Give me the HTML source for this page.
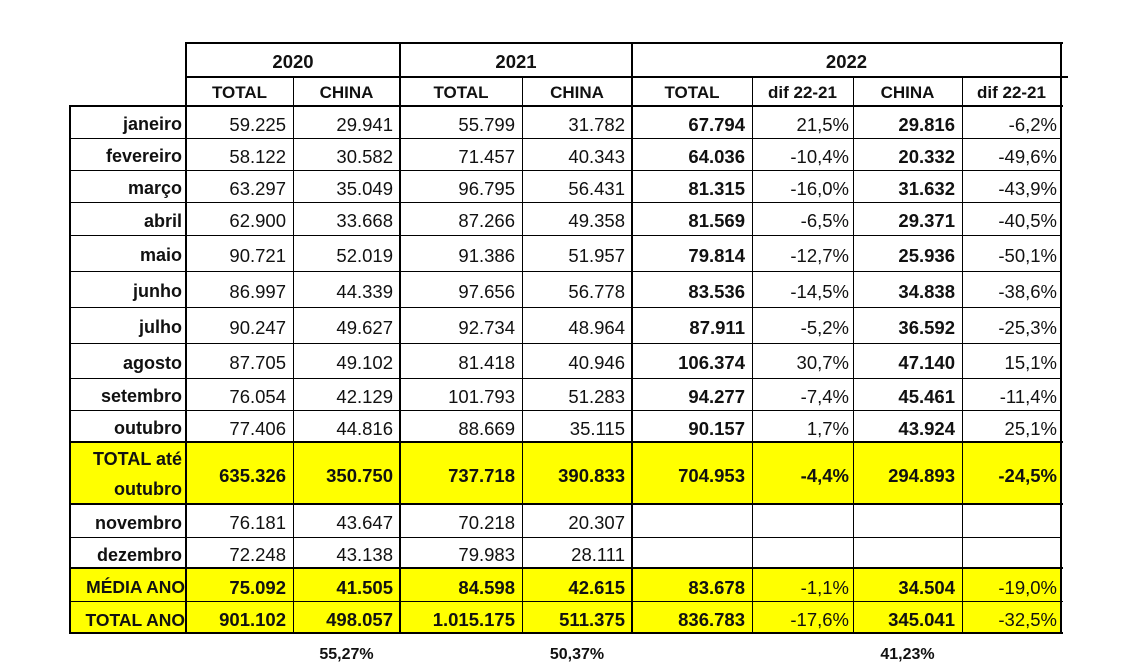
<!DOCTYPE html>
<html><head><meta charset="utf-8"><style>
body{margin:0;background:#fff;width:1138px;height:666px;position:relative;overflow:hidden;font-family:"Liberation Sans",Arial,sans-serif;color:#111}
.c{position:absolute;display:flex;align-items:center;justify-content:flex-end;box-sizing:border-box;padding-right:7px;padding-top:5px;font-size:18.5px;white-space:nowrap}
.h{justify-content:center;padding:0;padding-top:3px;font-weight:bold;font-size:17px}
.yr{font-size:18.5px}
.b{font-weight:bold}
.l{padding-right:4px;font-weight:bold;font-size:18px}
.y{position:absolute;background:#ffff00}
.hl{position:absolute;background:#000}
</style></head><body>
<div class="y" style="left:70px;top:442px;width:991px;height:62px"></div>
<div class="y" style="left:70px;top:568px;width:991px;height:65px"></div>

<!-- headers -->
<div class="c h yr" style="left:186px;top:43px;width:214px;height:34px">2020</div>
<div class="c h yr" style="left:400px;top:43px;width:232px;height:34px">2021</div>
<div class="c h yr" style="left:632px;top:43px;width:429px;height:34px">2022</div>
<div class="c h" style="left:186px;top:77px;width:107px;height:29px">TOTAL</div>
<div class="c h" style="left:293px;top:77px;width:107px;height:29px">CHINA</div>
<div class="c h" style="left:400px;top:77px;width:122px;height:29px">TOTAL</div>
<div class="c h" style="left:522px;top:77px;width:110px;height:29px">CHINA</div>
<div class="c h" style="left:632px;top:77px;width:120px;height:29px">TOTAL</div>
<div class="c h" style="left:752px;top:77px;width:101px;height:29px">dif 22-21</div>
<div class="c h" style="left:853px;top:77px;width:109px;height:29px">CHINA</div>
<div class="c h" style="left:962px;top:77px;width:99px;height:29px">dif 22-21</div>

<!-- rows -->
<div style="position:absolute;left:0;top:106px;width:1138px;height:32px">
<div class="c l" style="left:70px;width:116px;height:32px">janeiro</div>
<div class="c" style="left:186px;width:107px;height:32px">59.225</div>
<div class="c" style="left:293px;width:107px;height:32px">29.941</div>
<div class="c" style="left:400px;width:122px;height:32px">55.799</div>
<div class="c" style="left:522px;width:110px;height:32px">31.782</div>
<div class="c b" style="left:632px;width:120px;height:32px">67.794</div>
<div class="c" style="left:752px;width:101px;height:32px;padding-right:4px">21,5%</div>
<div class="c b" style="left:853px;width:109px;height:32px">29.816</div>
<div class="c" style="left:962px;width:99px;height:32px;padding-right:4px">-6,2%</div>
</div>
<div style="position:absolute;left:0;top:138px;width:1138px;height:32px">
<div class="c l" style="left:70px;width:116px;height:32px">fevereiro</div>
<div class="c" style="left:186px;width:107px;height:32px">58.122</div>
<div class="c" style="left:293px;width:107px;height:32px">30.582</div>
<div class="c" style="left:400px;width:122px;height:32px">71.457</div>
<div class="c" style="left:522px;width:110px;height:32px">40.343</div>
<div class="c b" style="left:632px;width:120px;height:32px">64.036</div>
<div class="c" style="left:752px;width:101px;height:32px;padding-right:4px">-10,4%</div>
<div class="c b" style="left:853px;width:109px;height:32px">20.332</div>
<div class="c" style="left:962px;width:99px;height:32px;padding-right:4px">-49,6%</div>
</div>
<div style="position:absolute;left:0;top:170px;width:1138px;height:32px">
<div class="c l" style="left:70px;width:116px;height:32px">março</div>
<div class="c" style="left:186px;width:107px;height:32px">63.297</div>
<div class="c" style="left:293px;width:107px;height:32px">35.049</div>
<div class="c" style="left:400px;width:122px;height:32px">96.795</div>
<div class="c" style="left:522px;width:110px;height:32px">56.431</div>
<div class="c b" style="left:632px;width:120px;height:32px">81.315</div>
<div class="c" style="left:752px;width:101px;height:32px;padding-right:4px">-16,0%</div>
<div class="c b" style="left:853px;width:109px;height:32px">31.632</div>
<div class="c" style="left:962px;width:99px;height:32px;padding-right:4px">-43,9%</div>
</div>
<div style="position:absolute;left:0;top:202px;width:1138px;height:33px">
<div class="c l" style="left:70px;width:116px;height:33px">abril</div>
<div class="c" style="left:186px;width:107px;height:33px">62.900</div>
<div class="c" style="left:293px;width:107px;height:33px">33.668</div>
<div class="c" style="left:400px;width:122px;height:33px">87.266</div>
<div class="c" style="left:522px;width:110px;height:33px">49.358</div>
<div class="c b" style="left:632px;width:120px;height:33px">81.569</div>
<div class="c" style="left:752px;width:101px;height:33px;padding-right:4px">-6,5%</div>
<div class="c b" style="left:853px;width:109px;height:33px">29.371</div>
<div class="c" style="left:962px;width:99px;height:33px;padding-right:4px">-40,5%</div>
</div>
<div style="position:absolute;left:0;top:235px;width:1138px;height:36px">
<div class="c l" style="left:70px;width:116px;height:36px">maio</div>
<div class="c" style="left:186px;width:107px;height:36px">90.721</div>
<div class="c" style="left:293px;width:107px;height:36px">52.019</div>
<div class="c" style="left:400px;width:122px;height:36px">91.386</div>
<div class="c" style="left:522px;width:110px;height:36px">51.957</div>
<div class="c b" style="left:632px;width:120px;height:36px">79.814</div>
<div class="c" style="left:752px;width:101px;height:36px;padding-right:4px">-12,7%</div>
<div class="c b" style="left:853px;width:109px;height:36px">25.936</div>
<div class="c" style="left:962px;width:99px;height:36px;padding-right:4px">-50,1%</div>
</div>
<div style="position:absolute;left:0;top:271px;width:1138px;height:36px">
<div class="c l" style="left:70px;width:116px;height:36px">junho</div>
<div class="c" style="left:186px;width:107px;height:36px">86.997</div>
<div class="c" style="left:293px;width:107px;height:36px">44.339</div>
<div class="c" style="left:400px;width:122px;height:36px">97.656</div>
<div class="c" style="left:522px;width:110px;height:36px">56.778</div>
<div class="c b" style="left:632px;width:120px;height:36px">83.536</div>
<div class="c" style="left:752px;width:101px;height:36px;padding-right:4px">-14,5%</div>
<div class="c b" style="left:853px;width:109px;height:36px">34.838</div>
<div class="c" style="left:962px;width:99px;height:36px;padding-right:4px">-38,6%</div>
</div>
<div style="position:absolute;left:0;top:307px;width:1138px;height:36px">
<div class="c l" style="left:70px;width:116px;height:36px">julho</div>
<div class="c" style="left:186px;width:107px;height:36px">90.247</div>
<div class="c" style="left:293px;width:107px;height:36px">49.627</div>
<div class="c" style="left:400px;width:122px;height:36px">92.734</div>
<div class="c" style="left:522px;width:110px;height:36px">48.964</div>
<div class="c b" style="left:632px;width:120px;height:36px">87.911</div>
<div class="c" style="left:752px;width:101px;height:36px;padding-right:4px">-5,2%</div>
<div class="c b" style="left:853px;width:109px;height:36px">36.592</div>
<div class="c" style="left:962px;width:99px;height:36px;padding-right:4px">-25,3%</div>
</div>
<div style="position:absolute;left:0;top:343px;width:1138px;height:35px">
<div class="c l" style="left:70px;width:116px;height:35px">agosto</div>
<div class="c" style="left:186px;width:107px;height:35px">87.705</div>
<div class="c" style="left:293px;width:107px;height:35px">49.102</div>
<div class="c" style="left:400px;width:122px;height:35px">81.418</div>
<div class="c" style="left:522px;width:110px;height:35px">40.946</div>
<div class="c b" style="left:632px;width:120px;height:35px">106.374</div>
<div class="c" style="left:752px;width:101px;height:35px;padding-right:4px">30,7%</div>
<div class="c b" style="left:853px;width:109px;height:35px">47.140</div>
<div class="c" style="left:962px;width:99px;height:35px;padding-right:4px">15,1%</div>
</div>
<div style="position:absolute;left:0;top:378px;width:1138px;height:32px">
<div class="c l" style="left:70px;width:116px;height:32px">setembro</div>
<div class="c" style="left:186px;width:107px;height:32px">76.054</div>
<div class="c" style="left:293px;width:107px;height:32px">42.129</div>
<div class="c" style="left:400px;width:122px;height:32px">101.793</div>
<div class="c" style="left:522px;width:110px;height:32px">51.283</div>
<div class="c b" style="left:632px;width:120px;height:32px">94.277</div>
<div class="c" style="left:752px;width:101px;height:32px;padding-right:4px">-7,4%</div>
<div class="c b" style="left:853px;width:109px;height:32px">45.461</div>
<div class="c" style="left:962px;width:99px;height:32px;padding-right:4px">-11,4%</div>
</div>
<div style="position:absolute;left:0;top:410px;width:1138px;height:32px">
<div class="c l" style="left:70px;width:116px;height:32px">outubro</div>
<div class="c" style="left:186px;width:107px;height:32px">77.406</div>
<div class="c" style="left:293px;width:107px;height:32px">44.816</div>
<div class="c" style="left:400px;width:122px;height:32px">88.669</div>
<div class="c" style="left:522px;width:110px;height:32px">35.115</div>
<div class="c b" style="left:632px;width:120px;height:32px">90.157</div>
<div class="c" style="left:752px;width:101px;height:32px;padding-right:4px">1,7%</div>
<div class="c b" style="left:853px;width:109px;height:32px">43.924</div>
<div class="c" style="left:962px;width:99px;height:32px;padding-right:4px">25,1%</div>
</div>
<div style="position:absolute;left:0;top:442px;width:1138px;height:62px">
<div class="c l" style="left:70px;width:116px;height:62px;flex-direction:column;align-items:flex-end;justify-content:center;line-height:30px;padding-top:2px">TOTAL até<br><span>outubro</span></div>
<div class="c b" style="left:186px;width:107px;height:62px">635.326</div>
<div class="c b" style="left:293px;width:107px;height:62px">350.750</div>
<div class="c b" style="left:400px;width:122px;height:62px">737.718</div>
<div class="c b" style="left:522px;width:110px;height:62px">390.833</div>
<div class="c b" style="left:632px;width:120px;height:62px">704.953</div>
<div class="c b" style="left:752px;width:101px;height:62px;padding-right:4px">-4,4%</div>
<div class="c b" style="left:853px;width:109px;height:62px">294.893</div>
<div class="c b" style="left:962px;width:99px;height:62px;padding-right:4px">-24,5%</div>
</div>
<div style="position:absolute;left:0;top:504px;width:1138px;height:33px">
<div class="c l" style="left:70px;width:116px;height:33px">novembro</div>
<div class="c" style="left:186px;width:107px;height:33px">76.181</div>
<div class="c" style="left:293px;width:107px;height:33px">43.647</div>
<div class="c" style="left:400px;width:122px;height:33px">70.218</div>
<div class="c" style="left:522px;width:110px;height:33px">20.307</div>
</div>
<div style="position:absolute;left:0;top:537px;width:1138px;height:31px">
<div class="c l" style="left:70px;width:116px;height:31px">dezembro</div>
<div class="c" style="left:186px;width:107px;height:31px">72.248</div>
<div class="c" style="left:293px;width:107px;height:31px">43.138</div>
<div class="c" style="left:400px;width:122px;height:31px">79.983</div>
<div class="c" style="left:522px;width:110px;height:31px">28.111</div>
</div>
<div style="position:absolute;left:0;top:568px;width:1138px;height:34px">
<div class="c l" style="left:70px;width:116px;height:34px;font-size:17.5px;padding-right:1px">MÉDIA ANO</div>
<div class="c b" style="left:186px;width:107px;height:34px">75.092</div>
<div class="c b" style="left:293px;width:107px;height:34px">41.505</div>
<div class="c b" style="left:400px;width:122px;height:34px">84.598</div>
<div class="c b" style="left:522px;width:110px;height:34px">42.615</div>
<div class="c b" style="left:632px;width:120px;height:34px">83.678</div>
<div class="c" style="left:752px;width:101px;height:34px;padding-right:4px">-1,1%</div>
<div class="c b" style="left:853px;width:109px;height:34px">34.504</div>
<div class="c" style="left:962px;width:99px;height:34px;padding-right:4px">-19,0%</div>
</div>
<div style="position:absolute;left:0;top:602px;width:1138px;height:31px">
<div class="c l" style="left:70px;width:116px;height:31px;font-size:17.5px;padding-right:1px">TOTAL ANO</div>
<div class="c b" style="left:186px;width:107px;height:31px">901.102</div>
<div class="c b" style="left:293px;width:107px;height:31px">498.057</div>
<div class="c b" style="left:400px;width:122px;height:31px">1.015.175</div>
<div class="c b" style="left:522px;width:110px;height:31px">511.375</div>
<div class="c b" style="left:632px;width:120px;height:31px">836.783</div>
<div class="c" style="left:752px;width:101px;height:31px;padding-right:4px">-17,6%</div>
<div class="c b" style="left:853px;width:109px;height:31px">345.041</div>
<div class="c" style="left:962px;width:99px;height:31px;padding-right:4px">-32,5%</div>
</div>

<div class="c h" style="left:293px;top:640px;width:107px;height:26px;font-size:16px">55,27%</div>
<div class="c h" style="left:522px;top:640px;width:110px;height:26px;font-size:16px">50,37%</div>
<div class="c h" style="left:853px;top:640px;width:109px;height:26px;font-size:16px">41,23%</div>

<!-- horizontal lines -->
<div class="hl" style="left:186px;top:42px;width:877px;height:2px"></div>
<div class="hl" style="left:186px;top:76px;width:882px;height:2px"></div>
<div class="hl" style="left:70px;top:105px;width:993px;height:2px"></div>
<div class="hl" style="left:70px;top:138px;width:992px;height:1px"></div>
<div class="hl" style="left:70px;top:170px;width:992px;height:1px"></div>
<div class="hl" style="left:70px;top:202px;width:992px;height:1px"></div>
<div class="hl" style="left:70px;top:235px;width:992px;height:1px"></div>
<div class="hl" style="left:70px;top:271px;width:992px;height:1px"></div>
<div class="hl" style="left:70px;top:307px;width:992px;height:1px"></div>
<div class="hl" style="left:70px;top:343px;width:992px;height:1px"></div>
<div class="hl" style="left:70px;top:378px;width:992px;height:1px"></div>
<div class="hl" style="left:70px;top:410px;width:992px;height:1px"></div>
<div class="hl" style="left:70px;top:441px;width:993px;height:2px"></div>
<div class="hl" style="left:70px;top:503px;width:993px;height:2px"></div>
<div class="hl" style="left:70px;top:537px;width:992px;height:1px"></div>
<div class="hl" style="left:70px;top:567px;width:993px;height:2px"></div>
<div class="hl" style="left:70px;top:601px;width:993px;height:1px"></div>
<div class="hl" style="left:70px;top:632px;width:993px;height:2px"></div>
<!-- vertical lines -->
<div class="hl" style="left:69px;top:105px;width:2px;height:529px"></div>
<div class="hl" style="left:185px;top:42px;width:2px;height:592px"></div>
<div class="hl" style="left:293px;top:77px;width:1px;height:557px"></div>
<div class="hl" style="left:399px;top:42px;width:2px;height:592px"></div>
<div class="hl" style="left:522px;top:77px;width:1px;height:557px"></div>
<div class="hl" style="left:631px;top:42px;width:2px;height:592px"></div>
<div class="hl" style="left:752px;top:77px;width:1px;height:557px"></div>
<div class="hl" style="left:853px;top:77px;width:1px;height:557px"></div>
<div class="hl" style="left:962px;top:77px;width:1px;height:557px"></div>
<div class="hl" style="left:1060px;top:42px;width:2px;height:592px"></div>
</body></html>
